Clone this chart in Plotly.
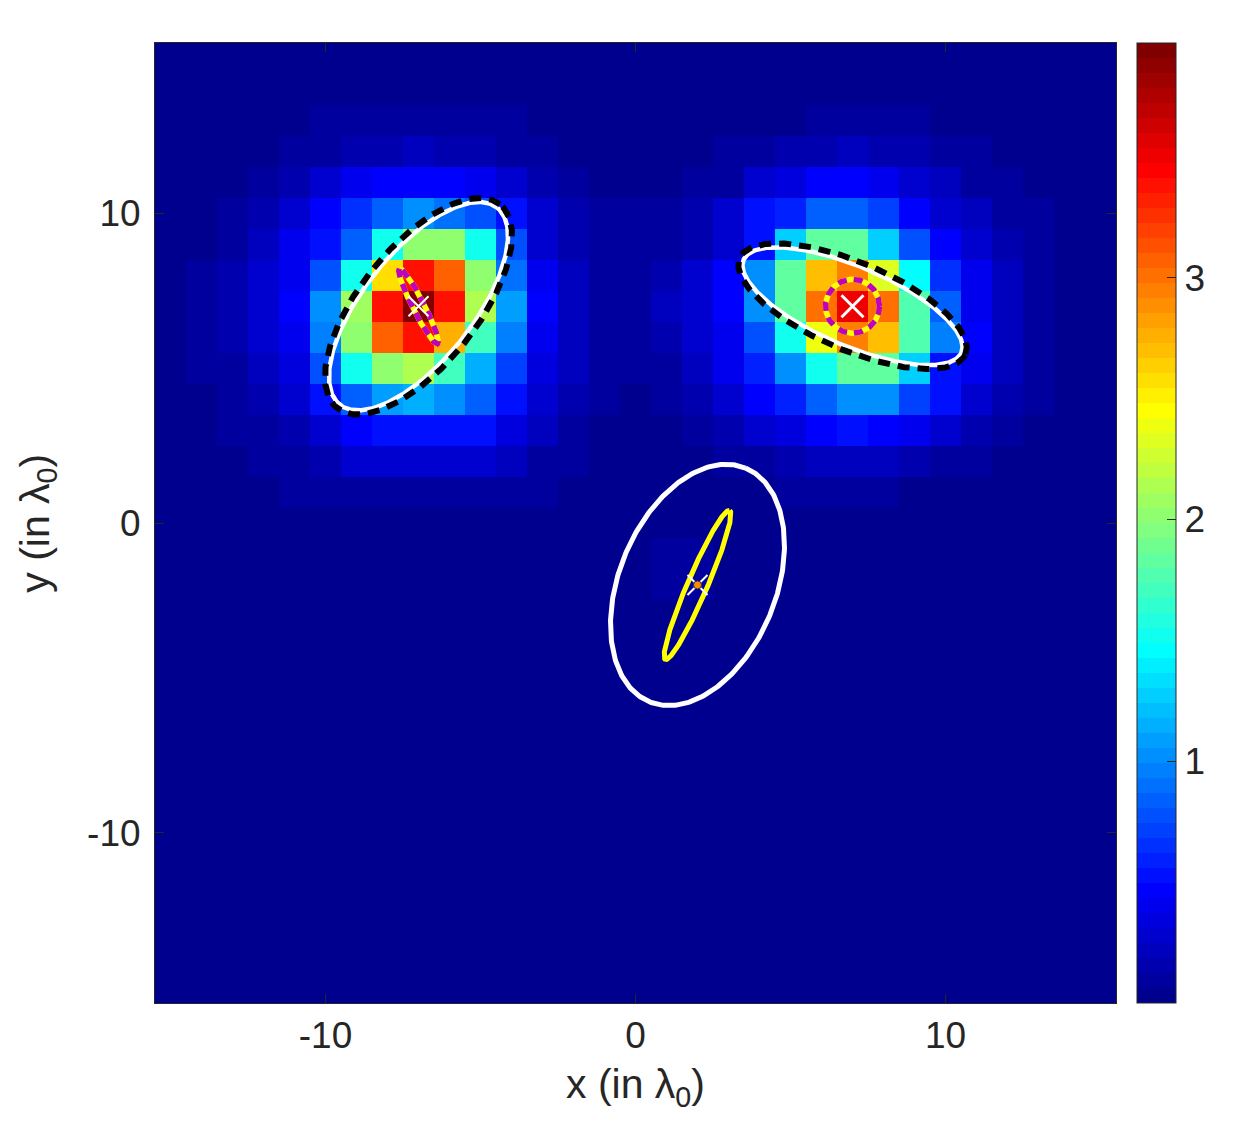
import numpy as np
import plotly.graph_objects as go

# ---------------- data ----------------
x_vals = list(range(-15, 16))
y_vals = list(range(15, -16, -1))  # rows listed top (y=15) to bottom (y=-15)

B = 0.03
z_rows = [
    # y=15
    [B]*31,
    # y=14
    [B]*31,
    # y=13
    [.03,.03,.03,.03,.03,.08,.08,.09,.09,.09,.08,.08,.03,.03,.03, .03,.03,.03,.03,.03,.03,.08,.08,.08,.08,.03,.03,.03,.03,.03,.03],
    # y=12
    [.03,.03,.03,.03,.08,.12,.14,.18,.20,.18,.14,.12,.08,.03,.03, .03,.03,.03,.08,.12,.15,.15,.20,.15,.15,.10,.08,.03,.03,.03,.03],
    # y=11
    [.03,.03,.05,.08,.14,.25,.38,.45,.47,.45,.40,.30,.15,.08,.05, .05,.05,.08,.12,.25,.35,.45,.47,.40,.30,.20,.12,.08,.05,.03,.03],
    # y=10
    [.03,.05,.10,.15,.25,.45,.65,.85,1.0,.90,.75,.50,.30,.15,.10, .08,.10,.15,.30,.50,.60,.85,.85,.70,.45,.30,.20,.10,.08,.03,.03],
    # y=9
    [.03,.05,.12,.20,.38,.55,.85,1.5,2.0,2.0,1.5,.75,.30,.18,.10, .08,.10,.15,.30,.50,1.3,1.8,1.85,1.3,.80,.45,.30,.15,.10,.05,.03],
    # y=8
    [.03,.08,.15,.28,.42,.75,1.5,2.6,3.35,3.05,2.0,.90,.38,.22,.10, .10,.18,.30,.45,1.0,1.8,2.7,2.95,2.35,1.45,.65,.38,.20,.10,.05,.03],
    # y=7
    [.03,.08,.15,.28,.45,1.05,2.1,3.35,3.97,3.35,2.15,1.1,.45,.22,.10, .10,.20,.30,.45,1.0,1.85,2.98,3.5,2.98,1.75,.85,.40,.20,.10,.05,.03],
    # y=6
    [.03,.08,.15,.28,.40,.95,2.0,3.05,3.35,2.75,1.7,.95,.40,.22,.10, .08,.15,.25,.40,.75,1.5,2.4,2.95,2.7,1.75,.95,.45,.22,.10,.05,.03],
    # y=5
    [.03,.08,.12,.22,.35,.75,1.5,2.0,2.15,1.7,1.15,.70,.35,.20,.10, .08,.12,.22,.42,.60,1.0,1.5,1.85,1.85,1.3,.50,.38,.20,.10,.03,.03],
    # y=4
    [.03,.06,.10,.18,.25,.50,.85,1.1,1.15,1.0,.85,.50,.30,.15,.08, .05,.10,.15,.30,.45,.60,.85,1.0,1.0,.70,.50,.30,.15,.08,.03,.03],
    # y=3
    [.03,.03,.08,.12,.18,.30,.45,.55,.55,.50,.50,.35,.20,.10,.05, .03,.05,.10,.15,.25,.35,.45,.50,.45,.40,.30,.15,.10,.03,.03,.03],
    # y=2
    [.03,.03,.03,.08,.12,.18,.25,.30,.30,.30,.25,.20,.12,.08,.03, .03,.03,.05,.08,.10,.15,.20,.20,.20,.15,.10,.08,.03,.03,.03,.03],
    # y=1
    [.03,.03,.03,.03,.07,.09,.10,.12,.12,.12,.10,.09,.07,.03,.03, .03,.03,.03,.03,.06,.08,.08,.08,.08,.06,.03,.03,.03,.03,.03,.03],
    # y=0
    [.03,.03,.03,.03,.03,.06,.06,.06,.06,.06,.06,.06,.03,.03,.03, .03,.03,.03,.03,.03,.03,.03,.06,.03,.03,.03,.03,.03,.03,.03,.03],
    # y=-1
    [.03,.03,.03,.03,.03,.03,.03,.03,.03,.03,.03,.03,.03,.03,.03, .03,.08,.08,.03,.03,.03,.03,.03,.03,.03,.03,.03,.03,.03,.03,.03],
    # y=-2
    [.03,.03,.03,.03,.03,.03,.03,.03,.03,.03,.03,.03,.03,.03,.03, .03,.08,.08,.03,.03,.03,.03,.03,.03,.03,.03,.03,.03,.03,.03,.03],
    # y=-3 .. -15
    [B]*31, [B]*31, [B]*31, [B]*31, [B]*31, [B]*31, [B]*31,
    [B]*31, [B]*31, [B]*31, [B]*31, [B]*31, [B]*31,
]

z_min, z_max = 0.0, 3.97
cbar_ticks = [1, 2, 3]
x_ticks = [-10, 0, 10]
x_ticktext = ["-10", "0", "10"]
y_ticks = [-10, 0, 10]
y_ticktext = ["-10", "0", "10"]

# ellipses: centre, semi-axes, rotation (deg)
ell_cx   = [-7.0, -7.0, -7.0, -7.0,  7.0,  7.0,  7.0,  7.0,  2.0,  2.0]
ell_cy   = [ 7.0,  7.0,  7.0,  7.0,  7.0,  7.0,  7.0,  7.0, -2.0, -2.0]
ell_a    = [4.07, 4.21, 1.36, 1.36, 3.82, 3.96, 0.87, 0.87, 4.08, 2.62]
ell_b    = [1.76, 1.90, 0.19, 0.19, 1.28, 1.42, 0.87, 0.87, 2.53, 0.32]
ell_ang  = [51.4, 51.4, 116.8, 116.8, -23.1, -23.1, 0.0, 0.0, 67.7, 66.7]
ell_col  = ["#ffffff", "#000000", "#ffff00", "#bf00bf", "#ffffff", "#000000",
            "#ffff00", "#bf00bf", "#ffffff", "#ffff00"]
ell_wid  = [4.5, 6, 5.5, 5.5, 4.5, 6, 5.5, 5.5, 5, 5]
ell_dash = ["solid", "12px,8px", "solid", "9px,7px", "solid", "12px,8px",
            "solid", "9px,7px", "solid", "solid"]

mk_x = [-7, 7, 2]
mk_y = [7, 7, -2]
mk_size = [20, 22, 20]
mk_lw = [2, 3, 2]

dot_x = [2]
dot_y = [-2]

# ---------------- colormap (MATLAB jet(64)) ----------------
def jet(m=64):
    n = int(np.ceil(m / 4))
    u = np.concatenate([np.arange(1, n + 1) / n, np.ones(n - 1), np.arange(n, 0, -1) / n])
    g = int(np.ceil(n / 2)) - (1 if m % 4 == 1 else 0) + np.arange(1, len(u) + 1)
    r = g + n
    b = g - n
    g = g[g <= m]
    r = r[r <= m]
    b = b[b >= 1]
    J = np.zeros((m, 3))
    J[r - 1, 0] = u[:len(r)]
    J[g - 1, 1] = u[:len(g)]
    J[b - 1, 2] = u[len(u) - len(b):]
    return J

J = jet(64)
cscale = []
for i, c in enumerate(J):
    col = "rgb(%d,%d,%d)" % tuple(int(round(v * 255)) for v in c)
    cscale.append([i / 64, col])
    cscale.append([(i + 1) / 64, col])

TXT = "#262626"
FONT = "Liberation Sans, Arial, Helvetica, sans-serif"

fig = go.Figure()
fig.add_trace(go.Heatmap(
    x=x_vals, y=y_vals, z=z_rows, zmin=z_min, zmax=z_max,
    colorscale=cscale, zsmooth=False, hoverinfo="skip",
    colorbar=dict(
        x=1.022, xanchor="left", xpad=0, y=0.5, yanchor="middle", ypad=0,
        len=1, lenmode="fraction", thickness=39, thicknessmode="pixels",
        outlinewidth=1, outlinecolor=TXT,
        tickvals=cbar_ticks, ticks="inside", ticklen=9, tickcolor=TXT,
        tickfont=dict(size=37, color=TXT, family=FONT),
    ),
))

t = np.linspace(0, 2 * np.pi, 400)
for i in range(len(ell_cx)):
    th = np.deg2rad(ell_ang[i])
    ex = ell_a[i] * np.cos(t)
    ey = ell_b[i] * np.sin(t)
    px = ell_cx[i] + ex * np.cos(th) - ey * np.sin(th)
    py = ell_cy[i] + ex * np.sin(th) + ey * np.cos(th)
    fig.add_trace(go.Scatter(
        x=px, y=py, mode="lines", hoverinfo="skip", showlegend=False,
        line=dict(color=ell_col[i], width=ell_wid[i], dash=ell_dash[i]),
    ))

for i in range(len(mk_x)):
    fig.add_trace(go.Scatter(
        x=[mk_x[i]], y=[mk_y[i]], mode="markers", showlegend=False, hoverinfo="skip",
        marker=dict(symbol="x-thin", size=mk_size[i], color="white",
                    line=dict(color="white", width=mk_lw[i])),
    ))

fig.add_trace(go.Scatter(
    x=dot_x, y=dot_y, mode="markers", showlegend=False, hoverinfo="skip",
    marker=dict(symbol="circle", size=8, color="#ff8c00", line=dict(color="#333333", width=1)),
))

axis_common = dict(
    showgrid=False, zeroline=False, ticks="inside", ticklen=9, tickcolor=TXT,
    showline=True, linecolor=TXT, linewidth=1, mirror="ticks",
    tickfont=dict(size=37, color=TXT, family=FONT),
)
fig.update_layout(
    width=1239, height=1127, autosize=False,
    margin=dict(l=155, r=123, t=43, b=124),
    paper_bgcolor="white", plot_bgcolor="#000080",
    showlegend=False,
    xaxis=dict(range=[-15.5, 15.5], tickvals=x_ticks, ticktext=x_ticktext,
               ticklabelstandoff=0, **axis_common),
    yaxis=dict(range=[-15.5, 15.5], tickvals=y_ticks, ticktext=y_ticktext,
               ticklabelstandoff=6, **axis_common),
    annotations=[
        dict(text="x (in λ<sub>0</sub>)", xref="paper", yref="paper",
             x=0.5, y=-0.088, xanchor="center", yanchor="middle", showarrow=False,
             font=dict(size=41, color=TXT, family=FONT)),
        dict(text="y (in λ<sub>0</sub>)", xref="paper", yref="paper",
             x=-0.122, y=0.5, xanchor="center", yanchor="middle", showarrow=False,
             textangle=-90, font=dict(size=41, color=TXT, family=FONT)),
    ],
)

fig.write_html("out.html")
